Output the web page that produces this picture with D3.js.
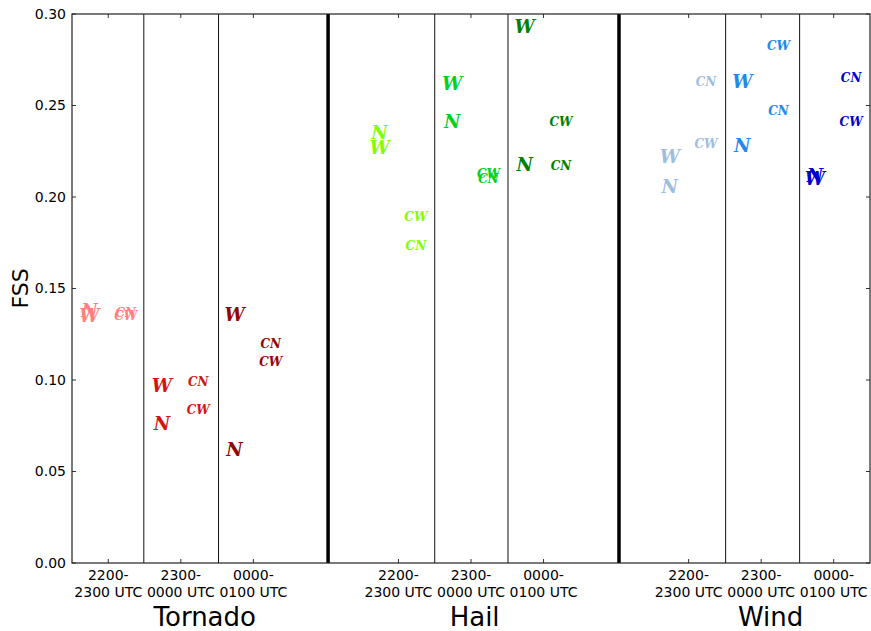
<!DOCTYPE html>
<html>
<head>
<meta charset="utf-8">
<script src="https://cdn.jsdelivr.net/npm/d3@7"></script>
<style>
  body { margin: 0; background: #fff; }
  svg { display: block; }
</style>
</head>
<body>
<div id="chart"></div>
<script>
// hazards, periods and FSS values (rows = hazard, cols = period)
const hazards = ["Tornado", "Hail", "Wind"];
const hazardLabelX = [2.33, 6.05, 10.13];
const periodTop = ["2200-", "2300-", "0000-"];
const periodBottom = ["2300 UTC", "0000 UTC", "0100 UTC"];
const yTicks = [0, 0.05, 0.10, 0.15, 0.20, 0.25, 0.30];
const thinSeps = [1.49, 2.52, 5.5, 6.51, 9.51, 10.53];
const thickSeps = [4.03, 8.04];

const nValues  = [[0.138, 0.076, 0.062], [0.235, 0.241, 0.218], [0.206, 0.228, 0.2115]];
const wValues  = [[0.135, 0.097, 0.136], [0.227, 0.262, 0.293], [0.222, 0.263, 0.210]];
const cnValues = [[0.137, 0.099, 0.120], [0.1735, 0.210, 0.217], [0.263, 0.247, 0.265]];
const cwValues = [[0.135, 0.084, 0.110], [0.189, 0.2125, 0.241], [0.229, 0.2825, 0.241]];

const colors = [
  ["#ff7f7f", "#d41414", "#990000"],
  ["#7fff00", "#00d21e", "#008000"],
  ["#9fbddf", "#2288ea", "#0000cd"]
];

const width = 871, height = 631;
const margin = {top: 14, right: 1, bottom: 68, left: 72};

const svg = d3.select("#chart").append("svg")
  .attr("width", width)
  .attr("height", height);

const x = d3.scaleLinear().domain([0.5, 11.5]).range([margin.left, width - margin.right]);
const y = d3.scaleLinear().domain([0, 0.30]).range([height - margin.bottom, margin.top]);

// category position on x: 1,2,3 / 5,6,7 / 9,10,11
const pos = (h, p) => h * 4 + p + 1;

const plot = svg.append("g");

// separators
plot.selectAll("line.thin").data(thinSeps).join("line")
  .attr("class", "thin")
  .attr("x1", d => x(d)).attr("x2", d => x(d))
  .attr("y1", y(0.30)).attr("y2", y(0))
  .attr("stroke", "#111").attr("stroke-width", 1);

plot.selectAll("line.thick").data(thickSeps).join("line")
  .attr("class", "thick")
  .attr("x1", d => x(d)).attr("x2", d => x(d))
  .attr("y1", y(0.30)).attr("y2", y(0))
  .attr("stroke", "#000").attr("stroke-width", 3.5);

// ticks (inward, all four sides)
const xTicks = [];
hazards.forEach((h, i) => periodTop.forEach((p, j) => xTicks.push({h: i, p: j, x: pos(i, j)})));

plot.selectAll("line.xt").data(xTicks).join("line")
  .attr("class", "xt")
  .attr("x1", d => x(d.x)).attr("x2", d => x(d.x))
  .attr("y1", y(0)).attr("y2", y(0) - 4)
  .attr("stroke", "#333");
plot.selectAll("line.xtt").data(xTicks).join("line")
  .attr("class", "xtt")
  .attr("x1", d => x(d.x)).attr("x2", d => x(d.x))
  .attr("y1", y(0.30)).attr("y2", y(0.30) + 4)
  .attr("stroke", "#333");
plot.selectAll("line.yt").data(yTicks).join("line")
  .attr("class", "yt")
  .attr("x1", x(0.5)).attr("x2", x(0.5) + 4)
  .attr("y1", d => y(d)).attr("y2", d => y(d))
  .attr("stroke", "#333");
plot.selectAll("line.ytr").data(yTicks).join("line")
  .attr("class", "ytr")
  .attr("x1", x(11.5)).attr("x2", x(11.5) - 4)
  .attr("y1", d => y(d)).attr("y2", d => y(d))
  .attr("stroke", "#333");

// frame
svg.append("rect")
  .attr("x", x(0.5)).attr("y", y(0.30))
  .attr("width", x(11.5) - x(0.5)).attr("height", y(0) - y(0.30))
  .attr("fill", "none").attr("stroke", "#222").attr("stroke-width", 1.2);

// y tick labels
svg.append("g")
  .attr("font-family", "DejaVu Sans")
  .attr("font-size", 14)
  .attr("text-anchor", "end")
  .selectAll("text").data(yTicks).join("text")
  .attr("x", x(0.5) - 6)
  .attr("y", d => y(d))
  .attr("dy", "0.35em")
  .text(d => d3.format(".2f")(d));

// x tick labels (two lines)
const xl = svg.append("g")
  .attr("font-family", "DejaVu Sans")
  .attr("font-size", 14)
  .attr("text-anchor", "middle")
  .selectAll("text").data(xTicks).join("text")
  .attr("transform", d => `translate(${x(d.x)},${y(0) + 17})`);
xl.append("tspan").attr("x", 0).attr("y", 0).text(d => periodTop[d.p]);
xl.append("tspan").attr("x", 0).attr("y", 17).text(d => periodBottom[d.p]);

// hazard labels
svg.append("g")
  .attr("font-family", "DejaVu Sans")
  .attr("font-size", 26)
  .attr("text-anchor", "middle")
  .selectAll("text").data(hazards).join("text")
  .attr("x", (d, i) => x(hazardLabelX[i]))
  .attr("y", 626)
  .text(d => d);

// y axis title
svg.append("text")
  .attr("font-family", "DejaVu Sans")
  .attr("font-size", 22)
  .attr("text-anchor", "middle")
  .attr("transform", `translate(28,${(y(0) + y(0.30)) / 2}) rotate(-90)`)
  .text("FSS");

// markers
const marks = [];
hazards.forEach((h, i) => periodTop.forEach((p, j) => {
  const c = colors[i][j];
  marks.push({t: "N", x: pos(i, j) - 0.26, v: nValues[i][j], c: c, s: 18});
  marks.push({t: "W", x: pos(i, j) - 0.26, v: wValues[i][j], c: c, s: 18});
  marks.push({t: "CN", x: pos(i, j) + 0.24, v: cnValues[i][j], c: c, s: 12});
  marks.push({t: "CW", x: pos(i, j) + 0.24, v: cwValues[i][j], c: c, s: 12});
}));

svg.append("g")
  .attr("font-family", "DejaVu Serif")
  .attr("font-style", "italic")
  .attr("font-weight", "bold")
  .attr("text-anchor", "middle")
  .selectAll("text").data(marks).join("text")
  .attr("x", d => x(d.x))
  .attr("y", d => y(d.v))
  .attr("dy", "0.36em")
  .attr("font-size", d => d.s)
  .attr("fill", d => d.c)
  .text(d => d.t);
</script>
</body>
</html>
